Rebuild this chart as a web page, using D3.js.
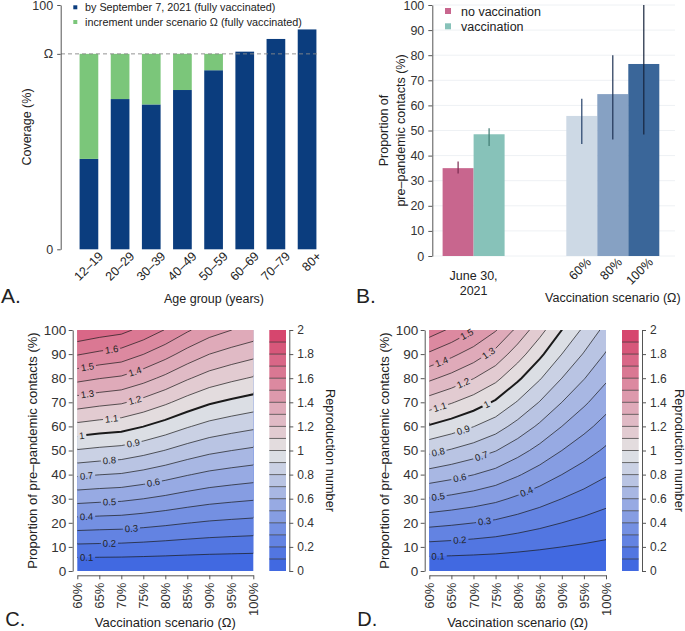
<!DOCTYPE html>
<html>
<head>
<meta charset="utf-8">
<script src="https://cdnjs.cloudflare.com/ajax/libs/d3/7.8.5/d3.min.js"></script>
<style>
body { margin: 0; background: #fff; }
svg { font-family: "Liberation Sans", Arial, sans-serif; }
text { fill: #222; }
.ax path, .ax line { stroke: #555; }
.ax text { fill: #333; }
</style>
</head>
<body>
<svg id="fig" width="685" height="631"></svg>
<script>
// ---------- panel A data ----------
var ageGroups = ["12–19", "20–29", "30–39", "40–49", "50–59", "60–69", "70–79", "80+"];
var coverageSep7 = [37.0, 61.5, 59.3, 65.2, 73.3, 80.9, 86.1, 90.0];
var incrementOmega = [43.0, 18.5, 20.7, 14.8, 6.7, 0, 0, 0];
var coverageTicks = [0, 80, 100];
var coverageTickLabels = ["0", "Ω", "100"];
var legendA = ["by September 7, 2021 (fully vaccinated)", "increment under scenario Ω (fully vaccinated)"];

// ---------- panel B data ----------
var groupsB = ["June 30, 2021", "Vaccination scenario"];
var juneSeries = ["no vaccination", "vaccination"];
var juneValues = [35.0, 48.5];
var juneLow = [32.9, 43.8];
var juneHigh = [37.6, 50.9];
var scenarios = ["60%", "80%", "100%"];
var scenarioValues = [55.8, 64.5, 76.5];
var scenarioLow = [44.6, 46.4, 48.4];
var scenarioHigh = [62.6, 80.0, 100.0];
var ticksB = [0, 10, 20, 30, 40, 50, 60, 70, 80, 90, 100];

// ---------- panels C, D data ----------
var omegas = [60, 65, 70, 75, 80, 85, 90, 95, 100];
var contacts = [0, 10, 20, 30, 40, 50, 60, 70, 80, 90, 100];
// reproduction number at 100% of pre-pandemic contacts, per scenario
var rFullC = [1.786, 1.754, 1.730, 1.669, 1.595, 1.513, 1.445, 1.401, 1.364];
var rFullD = [1.650, 1.582, 1.504, 1.408, 1.274, 1.136, 1.000, 0.881, 0.769];
var levels = [0.1, 0.2, 0.3, 0.4, 0.5, 0.6, 0.7, 0.8, 0.9, 1, 1.1, 1.2, 1.3, 1.4, 1.5, 1.6, 1.7, 1.8, 1.9];
var labelLevelsC = [0.1, 0.2, 0.3, 0.4, 0.5, 0.6, 0.7, 0.8, 0.9, 1, 1.1, 1.2, 1.3, 1.4, 1.5, 1.6];
var labelOmegaC = [62.1, 67.3, 72.3, 62.1, 67.3, 77.3, 62.1, 67.3, 72.7, 61.0, 67.8, 73.1, 62.3, 73.1, 62.3, 67.8];
var labelLevelsD = [0.1, 0.2, 0.3, 0.4, 0.5, 0.6, 0.7, 0.8, 0.9, 1, 1.1, 1.2, 1.3, 1.4, 1.5];
var labelOmegaD = [62.0, 66.9, 72.5, 82.0, 62.0, 66.9, 71.8, 62.0, 67.7, 73.0, 62.4, 67.7, 73.4, 62.8, 68.5];
var barTicks = [0, 0.2, 0.4, 0.6, 0.8, 1, 1.2, 1.4, 1.6, 1.8, 2];

var svg = d3.select("#fig");

// ================= A =================
var yA = d3.scaleLinear().domain([0, 100]).range([249.3, 5]);
var xA = d3.scaleBand().domain(ageGroups).range([64, 332]).paddingInner(0.4).paddingOuter(0.5);
var blueA = "#0b3d7e", greenA = "#7bc67a";
var gA = svg.append("g");

gA.selectAll(".blue").data(ageGroups).enter().append("rect")
  .attr("x", function(d) { return xA(d); })
  .attr("width", xA.bandwidth())
  .attr("y", function(d, i) { return yA(coverageSep7[i]); })
  .attr("height", function(d, i) { return yA(0) - yA(coverageSep7[i]); })
  .attr("fill", blueA);
gA.selectAll(".green").data(ageGroups).enter().append("rect")
  .attr("x", function(d) { return xA(d); })
  .attr("width", xA.bandwidth())
  .attr("y", function(d, i) { return yA(coverageSep7[i] + incrementOmega[i]); })
  .attr("height", function(d, i) { return yA(coverageSep7[i]) - yA(coverageSep7[i] + incrementOmega[i]); })
  .attr("fill", greenA);

gA.append("line")
  .attr("x1", 61).attr("x2", xA(ageGroups[7]) + xA.bandwidth() + 1)
  .attr("y1", yA(coverageTicks[1])).attr("y2", yA(coverageTicks[1]))
  .attr("stroke", "#888").attr("stroke-dasharray", "4,3").attr("stroke-width", 0.9);

gA.append("g").attr("class", "ax")
  .attr("transform", "translate(60.7,0)")
  .call(d3.axisLeft(yA).tickValues(coverageTicks).tickSize(3.5).tickSizeOuter(0).tickPadding(4)
    .tickFormat(function(d, i) { return coverageTickLabels[i]; }))
  .call(function(g) { g.selectAll("text").attr("font-size", 12.5); });

gA.selectAll(".xl").data(ageGroups).enter().append("text")
  .attr("transform", function(d) { return "translate(" + (xA(d) + xA.bandwidth() / 2 + 15) + ",257) rotate(-45)"; })
  .attr("text-anchor", "end").attr("font-size", 12.5).attr("fill", "#333")
  .text(function(d) { return d; });

[blueA, greenA].forEach(function(c, i) {
  gA.append("rect").attr("x", 73.3).attr("y", 5.3 + i * 14.7).attr("width", 4).attr("height", 4).attr("fill", c);
  gA.append("text").attr("x", 85).attr("y", 11 + i * 14.7).attr("font-size", 10.8).text(legendA[i]);
});

gA.append("text").attr("transform", "translate(31,127) rotate(-90)").attr("text-anchor", "middle")
  .attr("font-size", 12.5).text("Coverage (%)");
gA.append("text").attr("x", 214).attr("y", 302.5).attr("text-anchor", "middle")
  .attr("font-size", 12.5).text("Age group (years)");
gA.append("text").attr("x", 1).attr("y", 303).attr("font-size", 21).text("A.");

// ================= B =================
var yB = d3.scaleLinear().domain([0, 100]).range([256, 5]);
var xB = d3.scaleBand().domain(groupsB).range([404, 682.4]);
var barW = 31;
var juneColors = ["#c8668e", "#87c2b9"], juneErr = ["#7a2a50", "#3f7a72"];
var scenColors = ["#cdd9e5", "#86a1c3", "#3a6699"], scenErr = ["#24406a", "#1f3354", "#17253d"];
var gB = svg.append("g");

gB.selectAll(".grid").data(ticksB).enter().append("line")
  .attr("x1", 433).attr("x2", 675)
  .attr("y1", function(d) { return yB(d); }).attr("y2", function(d) { return yB(d); })
  .attr("stroke", "#eef1f4").attr("stroke-width", 1);

function innerScale(keys, group) {
  var c = xB(group) + xB.bandwidth() / 2;
  return d3.scaleBand().domain(keys).range([c - keys.length * barW / 2, c + keys.length * barW / 2]);
}
function drawBars(keys, vals, lo, hi, cols, errCols, group) {
  var xi = innerScale(keys, group);
  gB.selectAll(null).data(keys).enter().append("rect")
    .attr("x", function(d) { return xi(d); }).attr("width", xi.bandwidth())
    .attr("y", function(d, i) { return yB(vals[i]); })
    .attr("height", function(d, i) { return yB(0) - yB(vals[i]); })
    .attr("fill", function(d, i) { return cols[i]; });
  gB.selectAll(null).data(keys).enter().append("line")
    .attr("x1", function(d) { return xi(d) + xi.bandwidth() / 2; })
    .attr("x2", function(d) { return xi(d) + xi.bandwidth() / 2; })
    .attr("y1", function(d, i) { return yB(lo[i]); })
    .attr("y2", function(d, i) { return yB(hi[i]); })
    .attr("stroke", function(d, i) { return errCols[i]; }).attr("stroke-width", 1.2);
  return xi;
}
drawBars(juneSeries, juneValues, juneLow, juneHigh, juneColors, juneErr, groupsB[0]);
var xs = drawBars(scenarios, scenarioValues, scenarioLow, scenarioHigh, scenColors, scenErr, groupsB[1]);

gB.append("g").attr("class", "ax")
  .attr("transform", "translate(432.3,0)")
  .call(d3.axisLeft(yB).tickValues(ticksB).tickSize(4).tickSizeOuter(0).tickPadding(4))
  .call(function(g) { g.selectAll("text").attr("font-size", 12.5); });

var juneC = xB(groupsB[0]) + xB.bandwidth() / 2;
gB.append("text").attr("x", juneC).attr("y", 279.5).attr("text-anchor", "middle").attr("font-size", 12.5).text("June 30,");
gB.append("text").attr("x", juneC).attr("y", 295).attr("text-anchor", "middle").attr("font-size", 12.5).text("2021");
gB.selectAll(".sl").data(scenarios).enter().append("text")
  .attr("transform", function(d) { return "translate(" + (xs(d) + xs.bandwidth() / 2 + 10) + ",263) rotate(-45)"; })
  .attr("text-anchor", "end").attr("font-size", 12.5).attr("fill", "#333")
  .text(function(d) { return d; });
gB.append("text").attr("x", xB(groupsB[1]) + xB.bandwidth() / 2).attr("y", 301.5).attr("text-anchor", "middle")
  .attr("font-size", 12.5).text("Vaccination scenario (Ω)");

juneColors.forEach(function(c, i) {
  gB.append("rect").attr("x", 445).attr("y", 8 + i * 15.3).attr("width", 6).attr("height", 6).attr("fill", c);
  gB.append("text").attr("x", 461).attr("y", 15.5 + i * 15.3).attr("font-size", 12.5).text(juneSeries[i]);
});
gB.append("text").attr("transform", "translate(387.5,130.5) rotate(-90)").attr("text-anchor", "middle")
  .attr("font-size", 12.5).text("Proportion of");
gB.append("text").attr("transform", "translate(404.5,130.5) rotate(-90)").attr("text-anchor", "middle")
  .attr("font-size", 12.5).text("pre–pandemic contacts (%)");
gB.append("text").attr("x", 356).attr("y", 303).attr("font-size", 21).text("B.");

// ================= C, D =================
var colorR = d3.scaleLinear().domain([0.05, 1, 1.95]).range(["#4169e1", "#e4e4e4", "#d6466e"]);
var thresholds = [0].concat(levels);

function contourPanel(id, rFull, labelLevels, labelOmega, plotX0, plotX1, titleX, letter) {
  var x = d3.scaleLinear().domain([60, 100]).range([plotX0, plotX1]);
  var y = d3.scaleLinear().domain([0, 100]).range([571, 330]);
  var n = omegas.length, m = contacts.length;
  var values = [];
  contacts.forEach(function(p) { rFull.forEach(function(r) { values.push(r * p / 100); }); });

  // grid coordinate -> data coordinate (value k sits at k + 0.5)
  var gx = d3.scaleLinear().domain(omegas.map(function(d, i) { return i + 0.5; })).range(omegas);
  var gy = d3.scaleLinear().domain(contacts.map(function(d, i) { return i + 0.5; })).range(contacts);
  var px = function(c) { return x(gx(c)); }, py = function(c) { return y(gy(c)); };
  var proj = d3.geoTransform({ point: function(a, b) { this.stream.point(px(a), py(b)); } });
  var path = d3.geoPath(proj);
  var conts = d3.contours().size([n, m]).thresholds(thresholds)(values);

  var g = svg.append("g");
  var defs = g.append("defs");
  defs.append("clipPath").attr("id", "clip" + id).append("rect")
    .attr("x", plotX0).attr("y", 330).attr("width", plotX1 - plotX0).attr("height", 241);
  var mask = defs.append("mask").attr("id", "mask" + id).attr("maskUnits", "userSpaceOnUse")
    .attr("x", 0).attr("y", 300).attr("width", 685).attr("height", 331);
  mask.append("rect").attr("x", 0).attr("y", 300).attr("width", 685).attr("height", 331).attr("fill", "#fff");

  var plot = g.append("g").attr("clip-path", "url(#clip" + id + ")");
  plot.selectAll(".band").data(conts).enter().append("path")
    .attr("d", path).attr("fill", function(d) { return colorR(d.value + 0.05); });

  var lineG = plot.append("g").attr("mask", "url(#mask" + id + ")");
  lineG.selectAll(".lvl").data(conts.filter(function(d) { return d.value > 0; })).enter().append("path")
    .attr("d", path).attr("fill", "none").attr("stroke", "#1a1a1a")
    .attr("stroke-width", function(d) { return Math.abs(d.value - 1) < 1e-9 ? 2 : 0.7; });

  // labels placed on the contour lines
  labelLevels.forEach(function(L, k) {
    var c = conts.find(function(d) { return Math.abs(d.value - L) < 1e-9; });
    var xl = x(labelOmega[k]), hit = null;
    c.coordinates.forEach(function(poly) {
      poly.forEach(function(ring) {
        for (var i = 0; i < ring.length - 1 && !hit; i++) {
          var a = [px(ring[i][0]), py(ring[i][1])], b = [px(ring[i + 1][0]), py(ring[i + 1][1])];
          if (a[0] < plotX0 - 0.01 || b[0] < plotX0 - 0.01 || a[0] > plotX1 + 0.01 || b[0] > plotX1 + 0.01) continue;
          if (a[1] < 329.9 || b[1] < 329.9 || a[1] > 571.1 || b[1] > 571.1) continue;
          if ((a[0] - xl) * (b[0] - xl) <= 0 && a[0] !== b[0]) {
            var t = (xl - a[0]) / (b[0] - a[0]);
            var ang = Math.atan2(b[1] - a[1], b[0] - a[0]) * 180 / Math.PI;
            if (ang > 90) ang -= 180;
            if (ang < -90) ang += 180;
            hit = [xl, a[1] + t * (b[1] - a[1]), ang];
          }
        }
      });
    });
    if (!hit) return;
    var tr = "translate(" + hit[0] + "," + hit[1] + ") rotate(" + hit[2] + ")";
    var txt = g.append("text").attr("transform", tr).attr("text-anchor", "middle").attr("dy", "0.35em")
      .attr("font-size", 9.5).attr("fill", "#222").text(String(L));
    var w = txt.node().getComputedTextLength() + 4;
    mask.append("rect").attr("transform", tr).attr("x", -w / 2).attr("y", -4.5)
      .attr("width", w).attr("height", 9).attr("fill", "#000");
  });

  // axes
  g.append("g").attr("class", "ax").attr("transform", "translate(" + (plotX0 - 4.6) + ",0)")
    .call(d3.axisLeft(y).tickValues(contacts).tickSize(4).tickSizeOuter(0).tickPadding(2.5))
    .call(function(s) { s.selectAll("text").attr("font-size", 13.5); });
  g.append("g").attr("class", "ax").attr("transform", "translate(0,575.3)")
    .call(d3.axisBottom(x).tickValues(omegas).tickSize(4).tickSizeOuter(0).tickFormat(function(d) { return d + "%"; }))
    .call(function(s) {
      s.selectAll("text").attr("font-size", 13).attr("transform", "rotate(-90)")
        .attr("text-anchor", "end").attr("x", -7.5).attr("y", 0).attr("dy", "0.35em");
    });

  // colour bar
  var cb0 = plotX1 + 16, cbW = 16.7;
  var yc = d3.scaleLinear().domain([0, 2]).range([571, 330]);
  g.selectAll(".cb").data(thresholds).enter().append("rect")
    .attr("x", cb0).attr("width", cbW)
    .attr("y", function(d) { return yc(d + 0.1); })
    .attr("height", function(d) { return yc(d) - yc(d + 0.1); })
    .attr("fill", function(d) { return colorR(d + 0.05); });
  g.selectAll(".cbl").data(levels).enter().append("line")
    .attr("x1", cb0).attr("x2", cb0 + cbW)
    .attr("y1", function(d) { return yc(d); }).attr("y2", function(d) { return yc(d); })
    .attr("stroke", "#333").attr("stroke-width", 0.7);
  g.append("g").attr("class", "ax").attr("transform", "translate(" + (cb0 + cbW + 3.3) + ",0)")
    .call(d3.axisRight(yc).tickValues(barTicks).tickSize(4).tickSizeOuter(0).tickPadding(4)
      .tickFormat(function(d) { return String(d); }))
    .call(function(s) { s.selectAll("text").attr("font-size", 12); });

  g.append("text").attr("transform", "translate(" + (plotX0 - 40) + ",450.5) rotate(-90)").attr("text-anchor", "middle")
    .attr("font-size", 13).text("Proportion of pre–pandemic contacts (%)");
  g.append("text").attr("x", (plotX0 + plotX1) / 2).attr("y", 627).attr("text-anchor", "middle")
    .attr("font-size", 13).text("Vaccination scenario (Ω)");
  g.append("text").attr("transform", "translate(" + titleX + ",450.5) rotate(90)").attr("text-anchor", "middle")
    .attr("font-size", 12.8).text("Reproduction number");
  g.append("text").attr("x", plotX0 - 72).attr("y", 626).attr("font-size", 20).text(letter);
}

contourPanel("C", rFullC, labelLevelsC, labelOmegaC, 77.3, 253.3, 325.5, "C.");
contourPanel("D", rFullD, labelLevelsD, labelOmegaD, 429.3, 606, 674.5, "D.");
</script>
</body>
</html>
